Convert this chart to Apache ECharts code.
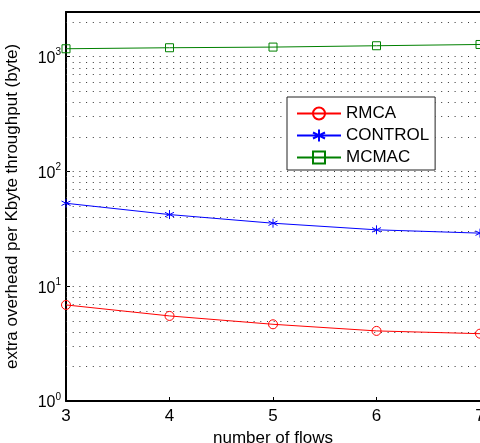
<!DOCTYPE html>
<html>
<head>
<meta charset="utf-8">
<script src="https://cdn.jsdelivr.net/npm/echarts@6/dist/echarts.min.js"></script>
<style>
html,body{margin:0;padding:0;background:#fff;}
#c{width:480px;height:443px;}
</style>
</head>
<body>
<div id="c"></div>
<script>
const flows = [3, 4, 5, 6, 7];
const rmca = [6.87, 5.51, 4.66, 4.08, 3.86];
const control = [52.8, 42.1, 35.4, 31.0, 29.0];
const mcmac = [1172, 1196, 1212, 1245, 1277];
const gridValues = [2,3,4,5,6,7,8,9,10,20,30,40,50,60,70,80,90,100,200,300,400,500,600,700,800,900,1000,2000];
const yMin = 1, yMax = 2450;

const FONT = 'Liberation Sans';
const asterisk = 'path://M0,-10L0,10M-8.66,-5L8.66,5M-8.66,5L8.66,-5';

function pairs(ys){ return flows.map((x,i)=>[x, ys[i]]); }

const chart = echarts.init(document.getElementById('c'), null, {renderer:'canvas'});
chart.setOption({
  animation:false,
  backgroundColor:'#fff',
  textStyle:{fontFamily:FONT},
  grid:{left:66, top:12, right:0, bottom:42, containLabel:false, outerBoundsMode:'none'},
  legend:{
    orient:'vertical', left:287, top:97,
    backgroundColor:'#fff', borderColor:'#222', borderWidth:1, borderRadius:0,
    padding:[8,6,4,9], itemGap:5, itemWidth:44, itemHeight:15,
    textStyle:{fontFamily:FONT, fontSize:17, color:'#000'},
    data:['RMCA','CONTROL','MCMAC']
  },
  xAxis:[{
    type:'value', min:3, max:7, interval:1,
    name:'number of flows', nameLocation:'middle', nameGap:28,
    nameTextStyle:{fontFamily:FONT, fontSize:17, color:'#000'},
    axisLine:{show:true, onZero:false, lineStyle:{color:'#000', width:2}},
    axisTick:{show:true, inside:true, length:4, lineStyle:{color:'#000'}},
    axisLabel:{fontFamily:FONT, fontSize:17, color:'#000', margin:7},
    splitLine:{show:false}
  },{
    type:'value', min:3, max:7, interval:1, position:'top',
    axisLine:{show:true, onZero:false, lineStyle:{color:'#000', width:2}},
    axisTick:{show:false}, axisLabel:{show:false}, splitLine:{show:false}
  }],
  yAxis:{
    type:'log', logBase:10, min:yMin, max:yMax,
    name:'extra overhead per Kbyte throughput (byte)', nameLocation:'middle', nameGap:45,
    nameTextStyle:{fontFamily:FONT, fontSize:17, color:'#000'},
    axisLine:{show:true, lineStyle:{color:'#000', width:2}},
    axisTick:{show:true, inside:true, length:4, lineStyle:{color:'#000'}},
    axisLabel:{
      margin:5, showMaxLabel:false,
      formatter:function(v){
        const e = Math.round(Math.log10(v));
        if (Math.abs(Math.log10(v) - e) > 1e-6) return '';
        return '{b|10}{s|' + e + '}';
      },
      rich:{
        b:{fontFamily:FONT, fontSize:16, color:'#000', padding:[4,0,0,0]},
        s:{fontFamily:FONT, fontSize:10, color:'#000', padding:[0,0,8,0]}
      }
    },
    splitLine:{show:false}
  },
  series:[
    {
      name:'RMCA', type:'line', data:pairs(rmca),
      symbol:'circle', symbolSize:9,
      lineStyle:{color:'#ff0000', width:1},
      itemStyle:{color:'rgba(255,255,255,0)', borderColor:'#ff0000', borderWidth:1},
      z:5,
      markLine:{
        silent:true, symbol:'none', animation:false,
        label:{show:false},
        lineStyle:{color:'#333', width:1, type:[1,5.7]},
        emphasis:{disabled:true},
        data:gridValues.map(v=>({yAxis:v})),
        z:1
      }
    },
    {
      name:'CONTROL', type:'line', data:pairs(control),
      symbol:asterisk, symbolSize:9,
      lineStyle:{color:'#0000ff', width:1},
      itemStyle:{color:'#0000ff', borderColor:'#0000ff', borderWidth:1},
      z:5
    },
    {
      name:'MCMAC', type:'line', data:pairs(mcmac),
      symbol:'rect', symbolSize:8,
      lineStyle:{color:'#008000', width:1},
      itemStyle:{color:'rgba(255,255,255,0)', borderColor:'#008000', borderWidth:1},
      z:5
    }
  ]
});
</script>
</body>
</html>
